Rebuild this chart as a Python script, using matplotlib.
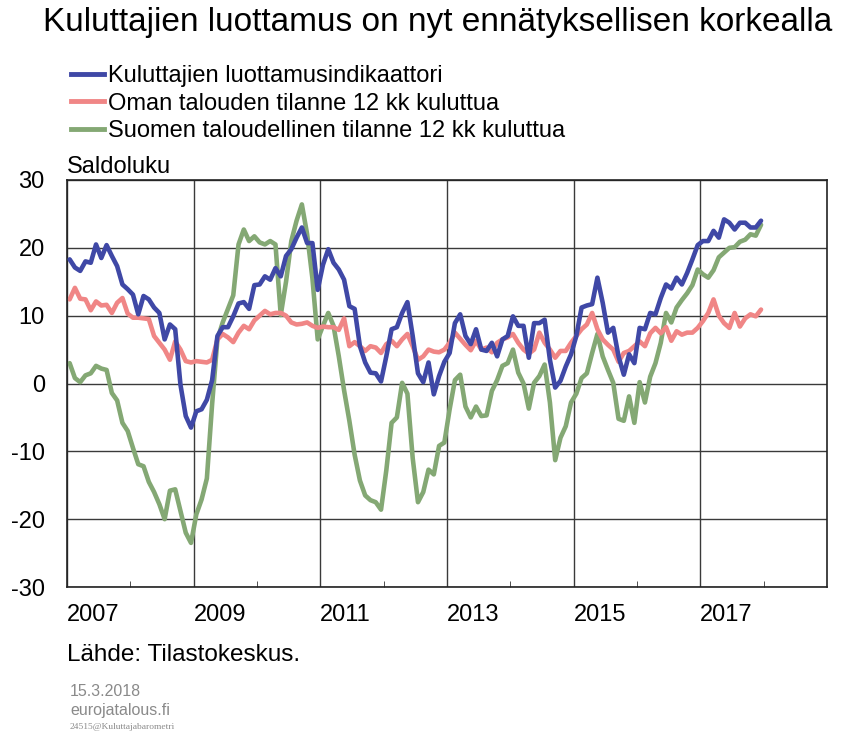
import numpy as np
import matplotlib
matplotlib.use("Agg")
import matplotlib.pyplot as plt
from matplotlib.lines import Line2D

plt.rcParams['font.family'] = ['Liberation Sans', 'DejaVu Sans']
plt.rcParams['axes.unicode_minus'] = False

# kuukausittaiset saldoluvut, tammikuu 2007 - joulukuu 2017
luottamus = [18.3, 17.1, 16.6, 18.0, 17.8, 20.5, 18.5, 20.4, 18.8, 17.3, 14.6, 13.9,
             13.1, 10.2, 12.9, 12.4, 11.2, 10.4, 6.5, 8.7, 8.0, -0.2, -4.8, -6.5,
             -4.1, -3.8, -2.4, 0.5, 7.0, 8.3, 8.3, 9.9, 11.8, 12.0, 11.0, 14.5,
             14.6, 15.8, 15.3, 17.0, 15.8, 18.8, 19.8, 21.5, 23.0, 20.7, 20.7, 13.8,
             17.5, 19.8, 17.8, 16.8, 15.3, 11.4, 11.0, 5.5, 3.1, 1.6, 1.5, 0.3,
             4.0, 8.0, 8.3, 10.4, 12.0, 7.0, 1.5, 0.2, 3.1, -1.6, 1.1, 3.2,
             4.5, 8.9, 10.2, 7.0, 5.8, 8.0, 5.0, 4.8, 6.0, 4.0, 6.5, 7.0,
             9.9, 8.5, 8.5, 3.8, 8.9, 8.9, 9.4, 3.5, -0.6, 0.4, 2.5, 4.3,
             7.0, 11.2, 11.5, 11.7, 15.6, 11.9, 7.5, 8.2, 4.0, 1.3, 4.3, 3.0,
             8.2, 8.0, 10.4, 10.2, 12.6, 14.6, 14.0, 15.6, 14.6, 16.3, 18.3, 20.4,
             21.0, 21.0, 22.5, 21.5, 24.2, 23.7, 22.7, 23.7, 23.7, 23.0, 23.0, 24.0]

oma_talous = [12.4, 14.1, 12.5, 12.4, 10.8, 12.1, 11.5, 11.6, 10.4, 11.9, 12.6, 10.3,
              9.7, 9.7, 9.6, 9.5, 7.0, 6.0, 5.0, 3.5, 6.2, 5.0, 3.3, 3.1,
              3.3, 3.2, 3.1, 3.5, 6.5, 7.3, 6.8, 6.1, 7.5, 8.5, 8.0, 9.3,
              10.0, 10.7, 10.2, 10.4, 10.4, 10.0, 9.0, 8.7, 8.8, 9.0, 8.5, 8.2,
              8.4, 8.3, 8.3, 7.9, 9.6, 5.5, 6.1, 5.5, 4.8, 5.5, 5.3, 4.5,
              5.8, 6.3, 5.5, 6.5, 7.3, 5.5, 3.5, 4.0, 5.0, 4.7, 4.6, 5.0,
              6.0, 7.5, 6.6, 5.7, 4.9, 6.3, 5.0, 5.3, 4.6, 6.0, 6.5, 6.8,
              7.3, 6.0, 5.0, 4.4, 5.0, 7.5, 6.0, 5.0, 3.8, 4.8, 4.8, 6.0,
              7.0, 8.0, 8.7, 10.4, 8.0, 6.5, 5.7, 5.0, 3.2, 4.5, 4.8, 5.5,
              6.2, 5.5, 7.4, 8.2, 7.4, 8.3, 6.3, 7.7, 7.2, 7.5, 7.5, 8.2,
              9.2, 10.4, 12.4, 10.0, 8.9, 8.2, 10.4, 8.4, 9.6, 10.2, 9.9, 10.9]

suomen_talous = [3.0, 0.8, 0.2, 1.2, 1.5, 2.6, 2.2, 2.0, -1.4, -2.5, -5.8, -7.0,
                 -9.5, -11.9, -12.2, -14.5, -16.0, -17.8, -20.0, -15.8, -15.6, -18.8, -22.0, -23.5,
                 -19.3, -17.1, -14.0, -3.0, 6.5, 9.0, 11.0, 13.0, 20.5, 22.7, 21.0, 21.7,
                 20.8, 20.5, 21.0, 20.5, 10.1, 15.0, 21.0, 24.0, 26.4, 22.0, 15.5, 6.5,
                 8.5, 10.4, 8.5, 4.0, -1.0, -5.5, -10.5, -14.3, -16.5, -17.2, -17.5, -18.6,
                 -12.8, -5.8, -5.0, 0.1, -1.5, -11.0, -17.5, -16.0, -12.7, -13.4, -9.2, -8.7,
                 -3.8, 0.5, 1.3, -3.4, -5.0, -3.4, -4.8, -4.7, -1.1, 0.5, 2.6, 3.0,
                 5.0, 1.6, 0.0, -3.7, 0.1, 1.1, 2.8, -2.8, -11.3, -8.0, -6.3, -2.8,
                 -1.5, 0.8, 1.5, 4.5, 7.3, 4.0, 2.0, 0.1, -5.2, -5.5, -1.9, -5.8,
                 0.2, -2.8, 1.0, 3.0, 6.0, 10.4, 9.0, 11.2, 12.3, 13.3, 14.5, 16.8,
                 16.1, 15.6, 16.7, 18.6, 19.3, 20.0, 20.1, 20.9, 21.2, 22.0, 21.8, 23.4]

nimet = ['Kuluttajien luottamusindikaattori',
         'Oman talouden tilanne 12 kk kuluttua',
         'Suomen taloudellinen tilanne 12 kk kuluttua']
varit = ['#3F48A6', '#F08686', '#84A874']

vuodet_label = ['2007', '2009', '2011', '2013', '2015', '2017']

# kuukauden puoliväli vuosiasteikolla
aika = 2007 + (np.arange(len(luottamus)) + 0.5) / 12

fig = plt.figure(figsize=(8.56, 7.36), dpi=100)
ax = fig.add_axes([67/856, 1 - 587/736, 760/856, 407/736])

sarjat = [luottamus, oma_talous, suomen_talous]
for sarja, vari, z in zip(sarjat, varit, [3, 2.5, 2]):
    ax.plot(aika, sarja, color=vari, lw=3.3, zorder=z,
            solid_joinstyle='round', solid_capstyle='round')

ax.set_xlim(2007, 2019)
ax.set_ylim(-30, 30)
ax.set_yticks(range(-30, 31, 10))
ax.set_xticks([int(v) for v in vuodet_label])
ax.set_xticklabels(vuodet_label, ha='left')
ax.set_xticks([2008, 2010, 2012, 2014, 2016, 2018], minor=True)
ax.grid(True, which='major', color='#3a3a3a', lw=1.0)
ax.set_axisbelow(True)
ax.tick_params(axis='both', which='major', length=0, labelsize=17)
ax.tick_params(axis='y', pad=16)
ax.tick_params(axis='x', pad=12)
ax.tick_params(axis='x', which='minor', direction='in', length=4, color='#333333')
for s in ax.spines.values():
    s.set_color('#222222')
    s.set_linewidth(1.2)

fig.text(438/856, 1 - 22/736, 'Kuluttajien luottamus on nyt ennätyksellisen korkealla',
         ha='center', va='center', fontsize=24)
fig.text(67/856, 1 - 167/736, 'Saldoluku', ha='left', va='center', fontsize=17)

kahvat = [Line2D([], [], color=c, lw=3.5) for c in varit]
fig.legend(kahvat, nimet, loc='upper left', bbox_to_anchor=(71/856, 1 - 65/736),
           frameon=False, fontsize=17, handlelength=1.4, handletextpad=0.15,
           labelspacing=0.24, borderaxespad=0, borderpad=0)

fig.text(67/856, 1 - 655/736, 'Lähde: Tilastokeskus.', ha='left', va='center', fontsize=17.5)
fig.text(70/856, 1 - 691/736, '15.3.2018', ha='left', va='center', fontsize=11.5, color='#8a8a8a')
fig.text(70/856, 1 - 710/736, 'eurojatalous.fi', ha='left', va='center', fontsize=11.5, color='#8a8a8a')
fig.text(70/856, 1 - 727/736, '24515@Kuluttajabarometri', ha='left', va='center', fontsize=6.8,
         color='#8a8a8a', family=['Liberation Serif', 'DejaVu Serif'])

fig.savefig('out.png', dpi=100)
